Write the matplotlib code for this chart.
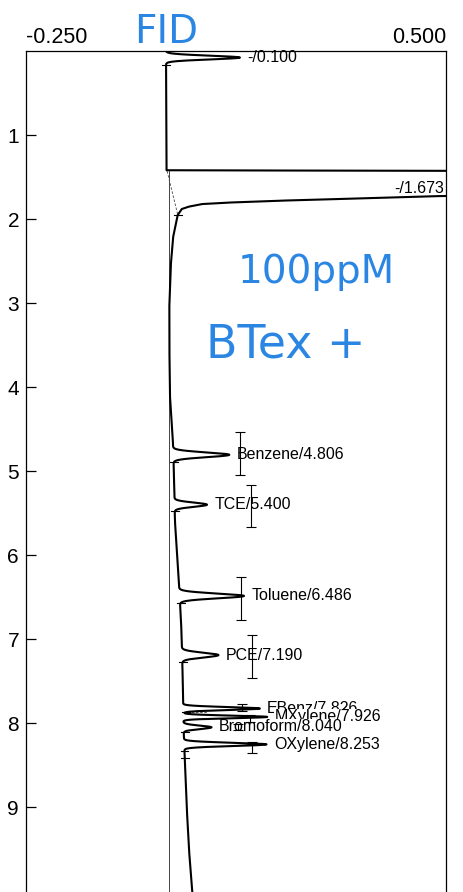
import numpy as np
import matplotlib
matplotlib.use("Agg")
import matplotlib.pyplot as plt

plt.rcParams['font.family'] = ['Liberation Sans', 'DejaVu Sans']

# Peak table (retention time in min, height above baseline, width sigma in min)
peak_names = ["-", "Benzene", "TCE", "Toluene", "PCE", "EBenz", "MXylene", "Bromoform", "OXylene"]
peak_rt = [0.100, 4.806, 5.400, 6.486, 7.190, 7.826, 7.926, 8.040, 8.253]
peak_pos = [0.078, 4.806, 5.400, 6.486, 7.190, 7.826, 7.926, 8.050, 8.253]
peak_height = [0.132, 0.100, 0.058, 0.115, 0.065, 0.137, 0.150, 0.050, 0.147]
peak_sigma = [0.022, 0.028, 0.025, 0.028, 0.028, 0.017, 0.015, 0.020, 0.019]

# Solvent peak (off scale): time and signal above baseline
solvent_t = [1.42, 1.43, 1.70, 1.726, 1.75, 1.775, 1.80, 1.82, 1.85, 1.88, 1.95]
solvent_v = [0.0, 0.80, 0.80, 0.48, 0.36, 0.22, 0.11, 0.05, 0.025, 0.01, 0.0]

# Baseline drift
base_t = [0.0, 1.43, 1.95, 2.2, 2.5, 3.0, 3.5, 4.1, 4.6, 5.0, 5.6, 6.0, 6.8, 7.5, 8.0, 8.5, 9.0, 9.5, 10.1]
base_v = [0.0, 0.001, 0.021, 0.013, 0.009, 0.006, 0.006, 0.007, 0.012, 0.014, 0.016, 0.020, 0.027, 0.030, 0.031, 0.034, 0.037, 0.041, 0.048]

# Retention windows drawn as I-bars: x position, start, end
win_x = [0.132, 0.152, 0.134, 0.154, 0.136, 0.150, 0.129, 0.154]
win_lo = [4.54, 5.17, 6.26, 6.95, 7.77, 7.90, 8.01, 8.23]
win_hi = [5.05, 5.67, 6.77, 7.46, 7.86, 7.99, 8.08, 8.35]

# integration marks on the trace
mark_t = [0.17, 1.95, 4.89, 5.47, 6.57, 7.27, 7.87, 8.10, 8.33, 8.42]

t = np.linspace(0.0, 10.1, 6000)
signal = np.interp(t, base_t, base_v) + np.interp(t, solvent_t, solvent_v, left=0, right=0)
for pos, h, s in zip(peak_pos, peak_height, peak_sigma):
    signal = signal + h * np.exp(-0.5 * ((t - pos) / s) ** 2)

fig = plt.figure(figsize=(4.63, 8.92), dpi=100)
ax = fig.add_axes([26 / 463, 0.0, 420 / 463, 1 - 51 / 892])
ax.set_xlim(-0.25, 0.5)
ax.set_ylim(10.01, 0)

# reference line and integration baselines
ax.plot([0.005, 0.005], [1.43, 10.1], color='#444444', lw=0.7, zorder=1)
ax.plot([0.002, 0.021], [1.43, 1.95], color='#444444', lw=0.6, ls=(0, (3, 2)), zorder=1)
ax.plot([0.031, 0.075], [7.87, 7.87], color='#444444', lw=0.6, ls=(0, (3, 2)), zorder=1)

ax.plot(signal, t, color='black', lw=1.5, zorder=3)

for mt in mark_t:
    mv = np.interp(mt, t, signal)
    ax.plot([mv - 0.007, mv + 0.007], [mt, mt], color='black', lw=0.8, zorder=3)

# labels
for name, rt, pos in zip(peak_names, peak_rt, peak_pos):
    tip = np.interp(pos, t, signal)
    ax.text(tip + 0.013, rt - 0.02 if name == "-" else rt, f"{name}/{rt:.3f}", fontsize=11.5,
            ha='left', va='center', zorder=2,
            bbox=dict(facecolor='white', edgecolor='none', pad=0.3))
ax.text(0.496, 1.64, "-/1.673", fontsize=11.5, ha='right', va='center', zorder=2)

err = [np.array(peak_rt[1:]) - np.array(win_lo), np.array(win_hi) - np.array(peak_rt[1:])]
ax.errorbar(win_x, peak_rt[1:], yerr=err, fmt='none', ecolor='black',
            elinewidth=0.8, capsize=3.5, capthick=0.8, zorder=4)

# axes styling
ax.spines['bottom'].set_visible(False)
for sp in ['left', 'right', 'top']:
    ax.spines[sp].set_linewidth(0.9)
ax.xaxis.tick_top()
ax.set_xticks([-0.25, 0.5])
ax.set_xticklabels(['-0.250', '0.500'])
ax.tick_params(axis='x', length=0, pad=2, labelsize=15.5)
xl = ax.get_xticklabels()
xl[0].set_ha('left')
xl[1].set_ha('right')
ax.set_yticks(range(1, 10))
ax.tick_params(axis='y', direction='in', length=7, width=0.9, labelsize=15, pad=5)

# handwritten notes
blue = '#2b86e3'
fig.text(166 / 463, 1 - 32 / 892, "FID", color=blue, fontsize=28, ha='center', va='center',
         family=['DejaVu Sans'])
fig.text(316 / 463, 1 - 272 / 892, "100ppM", color=blue, fontsize=28, ha='center', va='center',
         family=['DejaVu Sans'])
fig.text(286 / 463, 1 - 345 / 892, "BTex +", color=blue, fontsize=33, ha='center', va='center',
         family=['DejaVu Sans'])

fig.savefig("out.png", dpi=100)
